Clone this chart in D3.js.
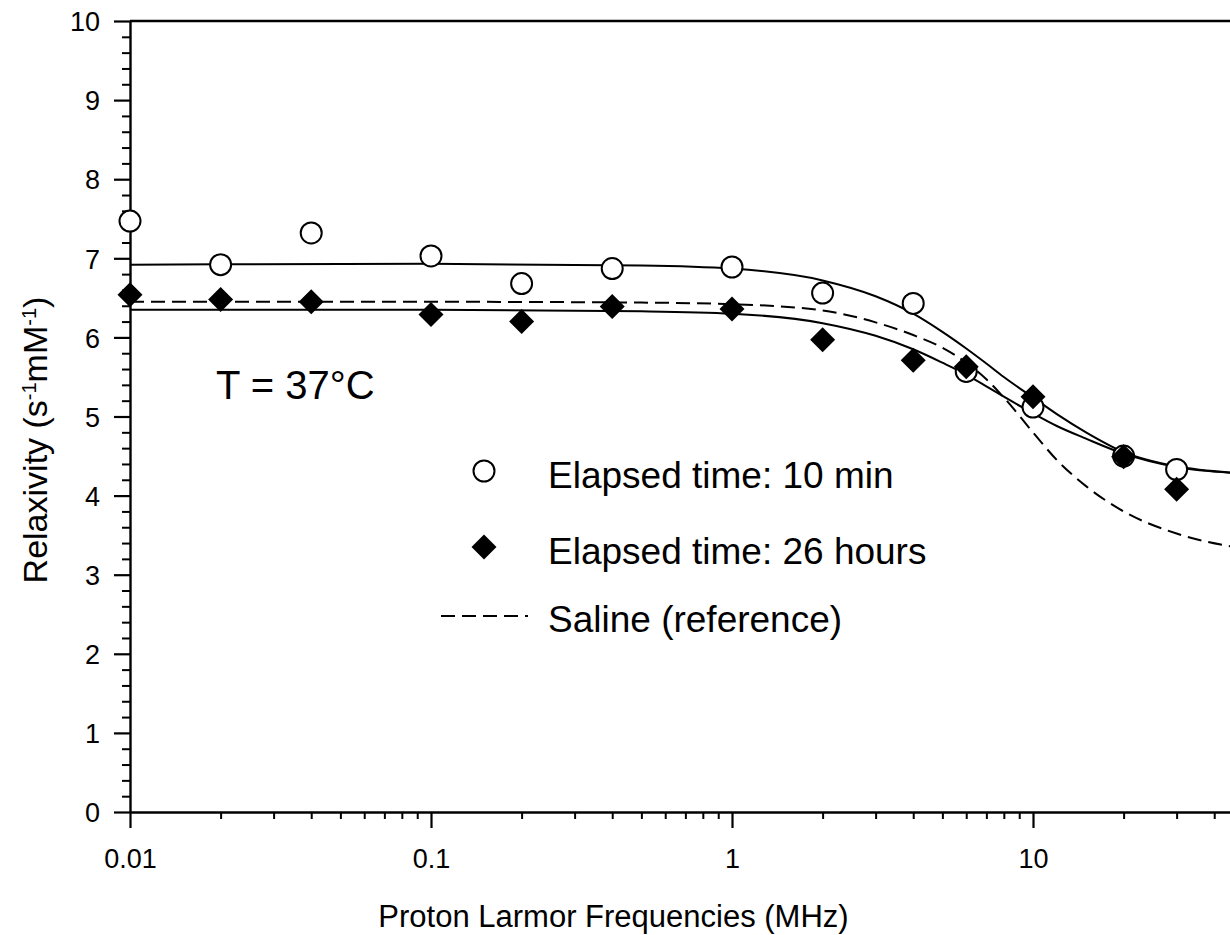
<!DOCTYPE html>
<html>
<head>
<meta charset="utf-8">
<script src="https://cdn.jsdelivr.net/npm/d3@7"></script>
<style>
  body { margin: 0; background: #fff; }
  svg { display: block; font-family: "Liberation Sans", Arial, sans-serif; }
</style>
</head>
<body>
<div id="chart"></div>
<script>
// measured points (proton Larmor frequency in MHz, relaxivity)
const freqs = [0.01, 0.02, 0.04, 0.1, 0.2, 0.4, 1, 2, 4, 6, 10, 20, 30];
const min10 = [7.47, 6.92, 7.32, 7.03, 6.68, 6.87, 6.89, 6.56, 6.43, 5.57, 5.12, 4.50, 4.33];
const hours26 = [6.54, 6.48, 6.45, 6.29, 6.20, 6.39, 6.36, 5.97, 5.71, 5.63, 5.25, 4.49, 4.08];

// fitted curves
const fitFreqs = [0.01, 0.1, 0.5, 1, 2, 3, 4, 5, 6, 7, 8, 10, 12, 15, 20, 30, 50];
const fit10min = [6.92, 6.93, 6.91, 6.87, 6.72, 6.52, 6.30, 6.07, 5.86, 5.67, 5.50, 5.24, 5.03, 4.80, 4.55, 4.37, 4.28];
const fit26h = [6.35, 6.35, 6.33, 6.30, 6.18, 6.02, 5.85, 5.68, 5.53, 5.38, 5.25, 5.04, 4.88, 4.72, 4.53, 4.36, 4.28];
const fitSaline = [6.45, 6.45, 6.44, 6.42, 6.34, 6.19, 6.03, 5.87, 5.68, 5.47, 5.24, 4.80, 4.45, 4.12, 3.80, 3.52, 3.33];

const xTicks = [0.01, 0.1, 1, 10];
const xTickLabels = ["0.01", "0.1", "1", "10"];
const yTicks = [0, 1, 2, 3, 4, 5, 6, 7, 8, 9, 10];

const legendItems = ["Elapsed time: 10 min", "Elapsed time: 26 hours", "Saline (reference)"];

const width = 1230, height = 935;
const x0 = 130, decade = 301;

const x = d3.scaleLog()
  .domain([0.01, 50])
  .range([x0, x0 + decade * Math.log10(50 / 0.01)]);
const y = d3.scaleLinear()
  .domain([0, 10])
  .range([812, 21]);

const svg = d3.select("#chart")
  .append("svg")
  .attr("width", width)
  .attr("height", height);

// minor ticks
const minorX = [];
[0.01, 0.1, 1, 10].forEach(b => {
  for (let k = 2; k <= 9; k++) {
    const v = b * k;
    if (v <= 50) minorX.push(v);
  }
});
const minorY = d3.range(0, 10.001, 0.2).filter(v => Math.abs(v - Math.round(v)) > 0.01);

svg.append("g")
  .attr("transform", `translate(0,${y(0)})`)
  .call(d3.axisBottom(x).tickValues(minorX).tickSize(7).tickFormat(""))
  .call(g => g.select(".domain").remove())
  .selectAll("line").attr("stroke-width", 2);

const xAxis = svg.append("g")
  .attr("transform", `translate(0,${y(0)})`)
  .call(d3.axisBottom(x).tickValues(xTicks).tickSize(16).tickSizeOuter(0)
    .tickFormat((d, i) => xTickLabels[i]));
xAxis.select(".domain").attr("stroke-width", 2.4);
xAxis.selectAll("line").attr("stroke-width", 2.2);
xAxis.selectAll("text")
  .attr("font-size", 27)
  .attr("fill", "#000")
  .attr("y", 0)
  .attr("dy", null)
  .attr("transform", "translate(0,56)");

svg.append("g")
  .attr("transform", `translate(${x0},0)`)
  .call(d3.axisLeft(y).tickValues(minorY).tickSize(8).tickFormat(""))
  .call(g => g.select(".domain").remove())
  .selectAll("line").attr("stroke-width", 2);

const yAxis = svg.append("g")
  .attr("transform", `translate(${x0},0)`)
  .call(d3.axisLeft(y).tickValues(yTicks).tickSize(16).tickSizeOuter(0).tickFormat(d3.format("d")));
yAxis.select(".domain").attr("stroke-width", 2.4);
yAxis.selectAll("line").attr("stroke-width", 2.2);
yAxis.selectAll("text")
  .attr("font-size", 27)
  .attr("fill", "#000")
  .attr("x", -30)
  .attr("dy", "0.36em");

// top frame line
svg.append("line")
  .attr("x1", x0).attr("x2", width)
  .attr("y1", y(10)).attr("y2", y(10))
  .attr("stroke", "#000")
  .attr("stroke-width", 2.4);

// fitted curves
const line = d3.line()
  .x(d => x(d.f))
  .y(d => y(d.v))
  .curve(d3.curveMonotoneX);

const toPts = vals => fitFreqs.map((f, i) => ({ f: f, v: vals[i] }));

svg.append("path")
  .attr("d", line(toPts(fit10min)))
  .attr("fill", "none").attr("stroke", "#000").attr("stroke-width", 2);
svg.append("path")
  .attr("d", line(toPts(fit26h)))
  .attr("fill", "none").attr("stroke", "#000").attr("stroke-width", 2);
svg.append("path")
  .attr("d", line(toPts(fitSaline)))
  .attr("fill", "none").attr("stroke", "#000").attr("stroke-width", 2)
  .attr("stroke-dasharray", "14,7");

// markers
const circleR = 10.5;
const diamond = s => `M0,${-s}L${s},0L0,${s}L${-s},0Z`;

svg.append("g")
  .selectAll("circle")
  .data(freqs.map((f, i) => ({ f: f, v: min10[i] })))
  .join("circle")
  .attr("cx", d => x(d.f))
  .attr("cy", d => y(d.v))
  .attr("r", circleR)
  .attr("fill", "#fff")
  .attr("stroke", "#000")
  .attr("stroke-width", 2);

svg.append("g")
  .selectAll("path")
  .data(freqs.map((f, i) => ({ f: f, v: hours26[i] })))
  .join("path")
  .attr("transform", d => `translate(${x(d.f)},${y(d.v)})`)
  .attr("d", diamond(12.5))
  .attr("fill", "#000");

// annotation
svg.append("text")
  .attr("x", 216)
  .attr("y", 399)
  .attr("font-size", 40)
  .text("T = 37°C");

// legend
const legend = svg.append("g");
const legY = [488, 564, 632];
legend.append("circle")
  .attr("cx", 484).attr("cy", legY[0] - 17).attr("r", circleR)
  .attr("fill", "#fff").attr("stroke", "#000").attr("stroke-width", 2);
legend.append("path")
  .attr("transform", `translate(484,${legY[1] - 17})`)
  .attr("d", diamond(12.5))
  .attr("fill", "#000");
legend.append("line")
  .attr("x1", 441).attr("x2", 528)
  .attr("y1", legY[2] - 16).attr("y2", legY[2] - 16)
  .attr("stroke", "#000").attr("stroke-width", 1.8)
  .attr("stroke-dasharray", "14,7");
legend.selectAll("text")
  .data(legendItems)
  .join("text")
  .attr("x", 548)
  .attr("y", (d, i) => legY[i])
  .attr("font-size", 37)
  .text(d => d);

// axis titles
svg.append("text")
  .attr("x", (385 + 842) / 2)
  .attr("y", 927)
  .attr("text-anchor", "middle")
  .attr("font-size", 31)
  .text("Proton Larmor Frequencies (MHz)");

const yTitle = svg.append("text")
  .attr("transform", "translate(47,440) rotate(-90)")
  .attr("text-anchor", "middle")
  .attr("font-size", 34);
yTitle.append("tspan").text("Relaxivity (s");
yTitle.append("tspan").attr("baseline-shift", "super").attr("font-size", 20).text("-1");
yTitle.append("tspan").text("mM");
yTitle.append("tspan").attr("baseline-shift", "super").attr("font-size", 20).text("-1");
yTitle.append("tspan").text(")");
</script>
</body>
</html>
